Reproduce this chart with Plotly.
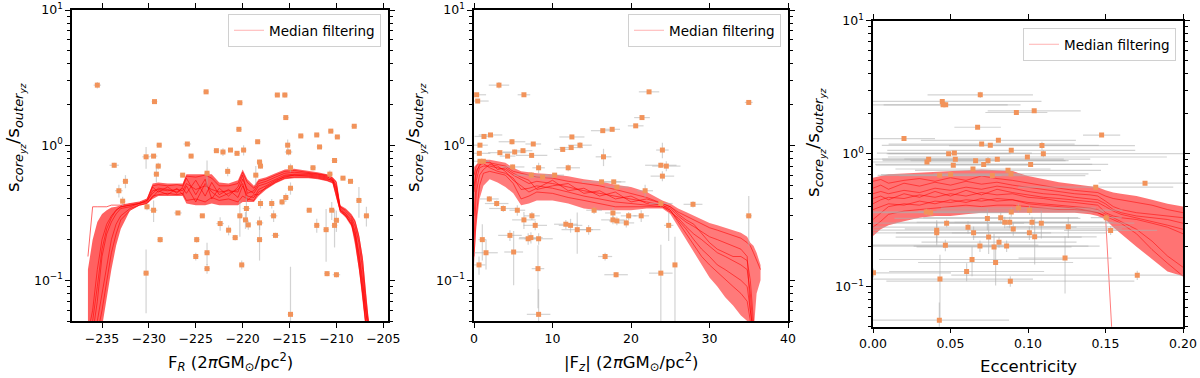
import plotly.graph_objects as go

# ---------------- Panel 1 : F_R ----------------
FR = [-235.5, -233.7, -232.5, -233.2, -232.8, -230.3, -230.2, -230.3, -229.5, -229.4,
      -229.0, -229.2, -229.5, -228.9, -228.8, -226.9, -226.4, -225.9, -225.5, -224.9,
      -225.0, -224.3, -223.9, -223.8, -223.8, -223.8, -222.8, -222.4, -222.1, -221.6,
      -221.5, -221.3, -220.8, -220.6, -220.4, -220.3, -220.3, -220.1, -219.9, -219.7,
      -219.6, -219.4, -218.4, -218.6, -218.2, -218.1, -218.1, -218.2, -218.2, -216.9,
      -216.7, -216.5, -216.3, -215.5, -215.4, -215.2, -215.1, -215.4, -215.8, -214.9,
      -214.9, -214.9, -213.8, -212.9, -212.5, -212.1, -212.1, -211.8, -211.1, -211.0,
      -210.6, -210.5, -210.2, -210.2, -209.9, -210.0, -210.0, -209.3, -208.5, -208.1,
      -207.6, -206.8, -210.7]
S1 = [2.78, 0.71, 0.54, 0.46, 0.385, 0.82, 0.35, 0.113, 0.83, 2.1,
      0.70, 0.61, 0.33, 1.0, 0.20, 0.315, 0.60, 1.02, 0.83, 0.20,
      0.15, 0.30, 2.48, 0.62, 0.16, 0.122, 0.91, 0.263, 0.89, 0.64,
      0.235, 0.92, 0.207, 0.87, 1.31, 2.06, 0.30, 0.13, 0.92, 0.28,
      0.34, 0.257, 1.06, 0.60, 0.75, 0.70, 0.37, 0.266, 0.20, 0.37,
      0.30, 0.215, 2.35, 2.35, 1.6, 1.0, 0.89, 0.41, 0.38, 0.68,
      0.48, 0.056, 1.17, 0.33, 0.68, 1.19, 0.255, 0.97, 0.237, 0.112,
      1.27, 0.33, 0.77, 0.255, 1.15, 0.278, 0.11, 0.57, 0.54, 1.38,
      0.39, 0.30, 0.61]
S1_ERR = [0.15, 0.03, 0.06, 0.05, 0.03, 0.15, 0.02, 0.056, 0.03, 0.05,
          0.04, 0.08, 0.06, 0.03, 0.01, 0.01, 0.02, 0.03, 0.02, 0.01,
          0.01, 0.01, 0.05, 0.15, 0.03, 0.01, 0.03, 0.03, 0.06, 0.05,
          0.02, 0.02, 0.01, 0.02, 0.03, 0.03, 0.09, 0.01, 0.08, 0.04,
          0.08, 0.02, 0.03, 0.10, 0.03, 0.03, 0.03, 0.03, 0.06, 0.03,
          0.03, 0.01, 0.05, 0.10, 0.04, 0.10, 0.05, 0.03, 0.02, 0.05,
          0.05, 0.07, 0.03, 0.01, 0.03, 0.02, 0.03, 0.03, 0.10, 0.005,
          0.03, 0.05, 0.02, 0.08, 0.02, 0.05, 0.005, 0.02, 0.02, 0.03,
          0.10, 0.05, 0.04]
FR_ERR = [0.4, 0.5, 0.3, 0.4, 0.3, 0.4, 0.3, 0.3, 0.4, 0.3,
          0.3, 0.3, 0.4, 0.3, 0.3, 0.4, 0.3, 0.4, 0.3, 0.3,
          0.3, 0.3, 0.3, 0.3, 0.3, 0.3, 0.3, 0.4, 0.3, 0.3,
          0.3, 0.3, 0.3, 0.3, 0.3, 0.3, 0.3, 0.3, 0.3, 0.3,
          0.4, 0.3, 0.3, 0.3, 0.3, 0.3, 0.3, 0.4, 0.3, 0.3,
          0.4, 0.4, 0.3, 0.3, 0.3, 0.3, 0.4, 0.3, 0.3, 0.3,
          0.3, 0.3, 0.3, 0.3, 0.3, 0.3, 0.3, 0.3, 0.3, 0.3,
          0.3, 0.3, 0.3, 0.3, 0.3, 0.3, 0.4, 0.3, 0.3, 0.3,
          0.3, 0.3, 0.3]

X1 = [-236.5, -236, -235.5, -235, -234.5, -234, -233.5, -233, -232, -231,
      -230.2, -229.6, -229, -228, -227, -226.4, -226, -225, -224, -223.3,
      -222.5, -221.5, -220.5, -220, -219.5, -218.8, -218.3, -217.5, -216.5, -215.5,
      -214.5, -213, -212, -211, -210.4, -210, -209.6, -209, -208.4, -208,
      -207.6, -207.2, -206.9, -206.6, -206.3]
U1 = [0.12, 0.20, 0.27, 0.31, 0.33, 0.345, 0.35, 0.36, 0.37, 0.38,
      0.40, 0.52, 0.53, 0.52, 0.52, 0.52, 0.61, 0.61, 0.61, 0.61,
      0.53, 0.52, 0.55, 0.66, 0.56, 0.50, 0.56, 0.58, 0.62, 0.66,
      0.67, 0.65, 0.63, 0.61, 0.58, 0.54, 0.36, 0.34, 0.31, 0.28,
      0.22, 0.15, 0.09, 0.055, 0.04]
L1 = [0.04, 0.04, 0.04, 0.045, 0.07, 0.12, 0.18, 0.24, 0.33, 0.36,
      0.37, 0.40, 0.42, 0.42, 0.42, 0.42, 0.37, 0.36, 0.36, 0.37,
      0.36, 0.36, 0.36, 0.38, 0.38, 0.38, 0.42, 0.47, 0.52, 0.56,
      0.57, 0.57, 0.56, 0.54, 0.52, 0.40, 0.32, 0.29, 0.25, 0.18,
      0.12, 0.07, 0.045, 0.04, 0.04]
LINES1 = [
    [0.04, 0.06, 0.12, 0.20, 0.26, 0.30, 0.33, 0.35, 0.36, 0.37,
     0.38, 0.46, 0.47, 0.46, 0.47, 0.46, 0.52, 0.47, 0.50, 0.47,
     0.45, 0.46, 0.45, 0.56, 0.47, 0.44, 0.50, 0.52, 0.56, 0.60,
     0.61, 0.61, 0.60, 0.58, 0.56, 0.50, 0.34, 0.31, 0.28, 0.23,
     0.16, 0.10, 0.06, 0.045, 0.04],
    [0.04, 0.04, 0.05, 0.08, 0.13, 0.20, 0.26, 0.30, 0.34, 0.36,
     0.37, 0.42, 0.43, 0.44, 0.43, 0.44, 0.39, 0.40, 0.38, 0.41,
     0.39, 0.40, 0.38, 0.42, 0.40, 0.39, 0.45, 0.48, 0.53, 0.57,
     0.58, 0.58, 0.57, 0.55, 0.53, 0.42, 0.33, 0.30, 0.26, 0.20,
     0.13, 0.08, 0.05, 0.04, 0.04],
    [0.15, 0.35, 0.35, 0.35, 0.35, 0.36, 0.36, 0.36, 0.37, 0.38,
     0.40, 0.50, 0.51, 0.50, 0.51, 0.50, 0.59, 0.58, 0.60, 0.57,
     0.50, 0.50, 0.52, 0.63, 0.53, 0.48, 0.54, 0.56, 0.60, 0.64,
     0.65, 0.63, 0.62, 0.60, 0.57, 0.53, 0.35, 0.33, 0.30, 0.27,
     0.21, 0.14, 0.08, 0.05, 0.04],
    [0.04, 0.04, 0.07, 0.15, 0.22, 0.27, 0.31, 0.34, 0.35, 0.37,
     0.39, 0.44, 0.48, 0.47, 0.45, 0.48, 0.44, 0.55, 0.42, 0.53,
     0.43, 0.47, 0.41, 0.50, 0.42, 0.41, 0.47, 0.50, 0.55, 0.58,
     0.60, 0.59, 0.58, 0.56, 0.55, 0.46, 0.33, 0.31, 0.27, 0.22,
     0.15, 0.09, 0.06, 0.042, 0.04],
    [0.04, 0.05, 0.09, 0.17, 0.24, 0.29, 0.33, 0.35, 0.36, 0.37,
     0.39, 0.49, 0.45, 0.49, 0.44, 0.49, 0.57, 0.43, 0.56, 0.40,
     0.48, 0.42, 0.49, 0.60, 0.44, 0.46, 0.52, 0.54, 0.58, 0.62,
     0.63, 0.62, 0.61, 0.59, 0.55, 0.48, 0.35, 0.32, 0.29, 0.25,
     0.19, 0.12, 0.07, 0.048, 0.04],
    [0.04, 0.04, 0.04, 0.06, 0.10, 0.16, 0.22, 0.28, 0.33, 0.36,
     0.37, 0.41, 0.46, 0.43, 0.48, 0.43, 0.50, 0.38, 0.52, 0.45,
     0.41, 0.44, 0.47, 0.52, 0.39, 0.43, 0.43, 0.49, 0.54, 0.59,
     0.60, 0.60, 0.59, 0.57, 0.54, 0.44, 0.32, 0.30, 0.26, 0.21,
     0.14, 0.08, 0.05, 0.04, 0.04],
]

# ---------------- Panel 2 : |F_z| ----------------
FZ = [0.34, 0.47, 3.18, 6.36, 1.27, 2.1, 0.76, 0.68, 0.76, 1.19,
      3.3, 4.28, 4.84, 5.18, 6.24, 7.34, 7.55, 4.92, 7.3, 8.23,
      8.74, 10.27, 2.89, 3.73, 1.95, 5.52, 6.36, 7.38, 7.8, 4.58,
      5.05, 1.53, 1.06, 6.9, 7.25, 8.23, 0.64, 8.15, 8.23, 11.3,
      12.47, 12.38, 13.5, 12.0, 11.7, 12.3, 13.15, 14.6, 16.4, 17.6,
      16.5, 16.25, 17.8, 18.2, 16.7, 18.1, 17.7, 17.7, 18.2, 19.4,
      19.7, 21.3, 20.6, 21.4, 22.3, 21.8, 23.8, 24.0, 23.8, 24.5,
      24.0, 24.8, 23.8, 25.6, 27.9, 35.0, 35.0, 15.3]
S2 = [2.36, 2.12, 2.78, 2.36, 1.16, 1.19, 1.0, 0.87, 0.76, 0.76,
      0.88, 0.83, 1.06, 0.89, 0.91, 0.84, 1.02, 0.69, 0.60, 0.68,
      0.58, 0.60, 0.37, 0.34, 0.40, 0.33, 0.28, 0.30, 0.255, 0.215,
      0.162, 0.16, 0.20, 0.203, 0.207, 0.203, 0.13, 0.122, 0.056, 0.93,
      1.15, 0.96, 1.0, 0.68, 0.26, 0.255, 0.237, 0.237, 1.28, 1.31,
      0.82, 0.535, 0.535, 0.49, 0.15, 0.11, 0.315, 0.28, 0.275, 0.266,
      0.30, 0.30, 1.39, 1.6, 2.48, 0.46, 0.37, 0.92, 0.71, 0.70,
      0.59, 0.255, 0.113, 0.13, 0.365, 2.07, 0.30, 0.33]
FZ_ERR = [1.2, 1.4, 1.3, 0.8, 1.2, 1.5, 1.0, 1.4, 1.2, 0.8,
          1.5, 1.0, 1.7, 1.5, 1.2, 2.0, 1.0, 1.5, 2.2, 0.8,
          1.5, 1.2, 1.5, 1.8, 1.2, 1.0, 1.5, 1.0, 1.5, 1.5,
          1.2, 1.5, 0.5, 1.2, 1.5, 1.8, 0.8, 0.8, 1.5, 1.1,
          1.6, 1.5, 1.5, 1.5, 1.5, 1.5, 2.0, 1.5, 1.5, 1.0,
          1.0, 2.5, 1.5, 1.5, 0.9, 1.5, 1.0, 1.5, 1.0, 1.0,
          1.0, 1.0, 1.0, 1.0, 1.3, 1.0, 1.5, 0.8, 2.0, 1.8,
          1.5, 0.6, 1.5, 0.3, 1.2, 0.5, 0.4, 1.0]
S2_ERR = [0.05, 0.05, 0.15, 0.05, 0.03, 0.03, 0.03, 0.03, 0.03, 0.02,
          0.03, 0.02, 0.05, 0.04, 0.03, 0.03, 0.03, 0.03, 0.03, 0.06,
          0.03, 0.02, 0.02, 0.02, 0.02, 0.03, 0.04, 0.02, 0.02, 0.02,
          0.07, 0.04, 0.06, 0.02, 0.02, 0.02, 0.02, 0.06, 0.03, 0.03,
          0.03, 0.03, 0.05, 0.04, 0.02, 0.03, 0.08, 0.02, 0.03, 0.03,
          0.12, 0.02, 0.02, 0.02, 0.01, 0.005, 0.03, 0.02, 0.02, 0.02,
          0.02, 0.03, 0.03, 0.03, 0.05, 0.05, 0.02, 0.12, 0.03, 0.06,
          0.05, 0.06, 0.07, 0.08, 0.02, 0.03, 0.12, 0.02]

X2 = [0, 0.3, 0.7, 1.2, 2, 3, 4, 5, 6, 7,
      8, 10, 12, 14, 16, 18, 20, 22, 24, 25,
      26, 27, 28, 29, 30, 31, 32, 33, 34, 34.8,
      35.2, 35.6, 36, 36.5]
U2 = [0.69, 0.72, 0.76, 0.78, 0.78, 0.76, 0.74, 0.68, 0.64, 0.63,
      0.62, 0.61, 0.59, 0.56, 0.54, 0.51, 0.49, 0.45, 0.39, 0.37,
      0.34, 0.32, 0.30, 0.28, 0.265, 0.255, 0.245, 0.235, 0.225, 0.21,
      0.19, 0.18, 0.16, 0.13]
L2 = [0.13, 0.25, 0.40, 0.50, 0.56, 0.53, 0.49, 0.44, 0.36, 0.37,
      0.39, 0.39, 0.37, 0.34, 0.33, 0.33, 0.33, 0.34, 0.34, 0.31,
      0.25, 0.20, 0.16, 0.13, 0.105, 0.09, 0.075, 0.065, 0.055, 0.05,
      0.04, 0.04, 0.08, 0.10]
LINES2 = [
    [0.30, 0.55, 0.68, 0.70, 0.70, 0.68, 0.66, 0.60, 0.56, 0.52,
     0.54, 0.52, 0.49, 0.46, 0.44, 0.42, 0.40, 0.38, 0.36, 0.34,
     0.30, 0.27, 0.25, 0.23, 0.21, 0.20, 0.19, 0.18, 0.17, 0.15,
     0.06, 0.04, 0.04, 0.04],
    [0.15, 0.30, 0.50, 0.62, 0.64, 0.62, 0.60, 0.52, 0.40, 0.42,
     0.45, 0.44, 0.41, 0.39, 0.37, 0.35, 0.35, 0.35, 0.35, 0.33,
     0.27, 0.22, 0.18, 0.15, 0.13, 0.115, 0.10, 0.09, 0.08, 0.07,
     0.05, 0.04, 0.04, 0.04],
    [0.60, 0.70, 0.74, 0.75, 0.74, 0.72, 0.70, 0.64, 0.62, 0.60,
     0.58, 0.57, 0.54, 0.52, 0.50, 0.47, 0.44, 0.41, 0.37, 0.35,
     0.32, 0.30, 0.28, 0.26, 0.245, 0.235, 0.225, 0.215, 0.205, 0.19,
     0.18, 0.16, 0.14, 0.12],
    [0.45, 0.62, 0.72, 0.73, 0.68, 0.64, 0.62, 0.57, 0.47, 0.48,
     0.50, 0.48, 0.45, 0.42, 0.40, 0.38, 0.37, 0.36, 0.35, 0.32,
     0.29, 0.25, 0.22, 0.20, 0.18, 0.16, 0.15, 0.14, 0.13, 0.12,
     0.08, 0.04, 0.04, 0.04],
    [0.20, 0.45, 0.60, 0.66, 0.72, 0.70, 0.64, 0.55, 0.50, 0.45,
     0.48, 0.55, 0.46, 0.48, 0.42, 0.45, 0.38, 0.40, 0.37, 0.35,
     0.31, 0.28, 0.26, 0.22, 0.19, 0.17, 0.16, 0.15, 0.15, 0.14,
     0.10, 0.05, 0.04, 0.04],
    [0.50, 0.65, 0.70, 0.77, 0.75, 0.66, 0.68, 0.62, 0.58, 0.55,
     0.47, 0.50, 0.52, 0.44, 0.46, 0.40, 0.42, 0.37, 0.36, 0.33,
     0.28, 0.24, 0.20, 0.17, 0.15, 0.13, 0.12, 0.11, 0.10, 0.09,
     0.06, 0.04, 0.04, 0.04],
]

# ---------------- Panel 3 : Eccentricity ----------------
ECC = [0.0692, 0.0447, 0.0452, 0.0469, 0.0925, 0.104, 0.0675, 0.020, 0.1475, 0.0701,
       0.0757, 0.0809, 0.0892, 0.109, 0.1099, 0.0996, 0.1017, 0.0488, 0.0525, 0.0531,
       0.0518, 0.0359, 0.0348, 0.0662, 0.0742, 0.0802, 0.0714, 0.0645, 0.0871, 0.0430,
       0.0501, 0.0890, 0.0770, 0.1755, 0.1437, 0.0344, 0.0372, 0.0892, 0.0938, 0.1010,
       0.1505, 0.1533, 0.0475, 0.0738, 0.0824, 0.0850, 0.0882, 0.1026, 0.1086, 0.1260,
       0.0411, 0.0411, 0.0613, 0.0649, 0.0905, 0.1009, 0.1043, 0.0746, 0.0467, 0.0690,
       0.0781, 0.0862, 0.0813, 0.0639, 0.0791, 0.1239, 0.0604, 0.0432, 0.0886, 0.1705,
       0.0428, 0.0003]
S3 = [2.77, 2.47, 2.33, 2.33, 2.04, 2.10, 1.58, 1.30, 1.38, 1.18,
      1.155, 1.26, 1.06, 1.15, 1.0, 0.944, 0.83, 1.0, 1.01, 0.91,
      0.82, 0.91, 0.866, 0.886, 0.886, 0.91, 0.83, 0.767, 0.75, 0.688,
      0.696, 0.704, 0.684, 0.60, 0.56, 0.365, 0.36, 0.365, 0.39, 0.376,
      0.33, 0.265, 0.30, 0.326, 0.33, 0.305, 0.305, 0.305, 0.30, 0.282,
      0.266, 0.254, 0.28, 0.254, 0.272, 0.254, 0.237, 0.236, 0.205, 0.202,
      0.199, 0.202, 0.216, 0.16, 0.152, 0.164, 0.13, 0.114, 0.11, 0.122,
      0.056, 0.127]
ECC_ERR = [0.034, 0.064, 0.05, 0.04, 0.02, 0.03, 0.015, 0.02, 0.012, 0.06,
           0.07, 0.05, 0.08, 0.06, 0.10, 0.09, 0.05, 0.04, 0.05, 0.07,
           0.05, 0.03, 0.035, 0.06, 0.05, 0.06, 0.07, 0.05, 0.06, 0.04,
           0.045, 0.05, 0.06, 0.03, 0.05, 0.04, 0.05, 0.06, 0.05, 0.06,
           0.01, 0.03, 0.05, 0.06, 0.05, 0.07, 0.06, 0.05, 0.06, 0.04,
           0.05, 0.06, 0.07, 0.05, 0.07, 0.05, 0.04, 0.06, 0.06, 0.07,
           0.05, 0.06, 0.05, 0.06, 0.05, 0.03, 0.05, 0.06, 0.08, 0.12,
           0.045, 0.05]
S3_ERR = [0.15, 0.10, 0.05, 0.05, 0.03, 0.03, 0.03, 0.03, 0.03, 0.03,
          0.03, 0.03, 0.03, 0.08, 0.06, 0.03, 0.03, 0.03, 0.03, 0.03,
          0.03, 0.03, 0.03, 0.03, 0.06, 0.03, 0.03, 0.03, 0.03, 0.03,
          0.03, 0.03, 0.03, 0.02, 0.02, 0.02, 0.02, 0.03, 0.03, 0.03,
          0.02, 0.02, 0.02, 0.06, 0.03, 0.03, 0.03, 0.03, 0.07, 0.05,
          0.05, 0.05, 0.03, 0.03, 0.03, 0.03, 0.09, 0.06, 0.02, 0.02,
          0.05, 0.02, 0.02, 0.04, 0.05, 0.075, 0.02, 0.06, 0.01, 0.01,
          0.02, 0.01]

X3 = [0, 0.005, 0.01, 0.02, 0.03, 0.04, 0.05, 0.06, 0.07, 0.08,
      0.09, 0.10, 0.11, 0.12, 0.13, 0.14, 0.145, 0.15, 0.155, 0.16,
      0.17, 0.18, 0.19, 0.20]
U3 = [0.66, 0.68, 0.70, 0.71, 0.72, 0.73, 0.74, 0.75, 0.76, 0.75,
      0.74, 0.68, 0.64, 0.61, 0.59, 0.57, 0.56, 0.53, 0.51, 0.50,
      0.48, 0.45, 0.42, 0.40]
L3 = [0.24, 0.27, 0.29, 0.31, 0.33, 0.34, 0.34, 0.35, 0.36, 0.36,
      0.36, 0.36, 0.36, 0.36, 0.36, 0.35, 0.34, 0.32, 0.28, 0.25,
      0.20, 0.16, 0.13, 0.12]
LINES3 = [
    [0.50, 0.52, 0.50, 0.53, 0.51, 0.55, 0.53, 0.56, 0.54, 0.57,
     0.55, 0.52, 0.50, 0.49, 0.47, 0.46, 0.45, 0.42, 0.38, 0.36,
     0.34, 0.33, 0.32, 0.30],
    [0.32, 0.36, 0.40, 0.42, 0.41, 0.44, 0.43, 0.45, 0.44, 0.46,
     0.45, 0.43, 0.42, 0.41, 0.40, 0.39, 0.38, 0.35, 0.33, 0.31,
     0.27, 0.22, 0.17, 0.14],
    [0.62, 0.64, 0.60, 0.63, 0.65, 0.62, 0.66, 0.63, 0.68, 0.65,
     0.63, 0.60, 0.57, 0.55, 0.53, 0.52, 0.51, 0.48, 0.46, 0.45,
     0.43, 0.41, 0.38, 0.36],
    [0.42, 0.45, 0.47, 0.46, 0.49, 0.47, 0.50, 0.48, 0.51, 0.49,
     0.50, 0.47, 0.46, 0.44, 0.43, 0.42, 0.41, 0.36, 0.34, 0.33,
     0.32, 0.30, 0.28, 0.25],
    [0.38, 0.40, 0.42, 0.41, 0.44, 0.42, 0.45, 0.43, 0.46, 0.44,
     0.45, 0.42, 0.41, 0.40, 0.39, 0.37, 0.36, 0.34, 0.03, None,
     None, None, None, None],
    [0.55, 0.58, 0.54, 0.60, 0.57, 0.61, 0.58, 0.62, 0.59, 0.61,
     0.58, 0.56, 0.54, 0.52, 0.50, 0.49, 0.48, 0.44, 0.40, 0.38,
     0.36, 0.35, 0.34, 0.33],
    [0.28, 0.31, 0.35, 0.37, 0.38, 0.39, 0.40, 0.41, 0.40, 0.41,
     0.41, 0.40, 0.39, 0.38, 0.38, 0.37, 0.36, 0.34, 0.32, 0.30,
     0.25, 0.19, 0.15, 0.12],
    [0.46, 0.48, 0.45, 0.50, 0.47, 0.52, 0.48, 0.53, 0.49, 0.54,
     0.51, 0.49, 0.47, 0.46, 0.45, 0.44, 0.43, 0.40, 0.37, 0.35,
     0.33, 0.31, 0.29, 0.27],
]

for a, b in [(FR, S1), (FR, S1_ERR), (FR, FR_ERR), (FZ, S2), (FZ, FZ_ERR), (FZ, S2_ERR),
             (ECC, S3), (ECC, ECC_ERR), (ECC, S3_ERR), (X1, U1), (X1, L1), (X2, U2), (X2, L2),
             (X3, U3), (X3, L3)] + [(X1, l) for l in LINES1] + [(X2, l) for l in LINES2] \
        + [(X3, l) for l in LINES3]:
    assert len(a) == len(b), (len(a), len(b))

YLAB = "s<sub><i>core<sub>yz</sub></i></sub>/s<sub><i>outer<sub>yz</sub></i></sub>"
XLABS = ["F<sub><i>R</i></sub> (2<i>π</i>GM<sub>⊙</sub>/pc<sup>2</sup>)",
         "|F<sub><i>z</i></sub>| (2<i>π</i>GM<sub>⊙</sub>/pc<sup>2</sup>)",
         "Eccentricity"]

FONT = "DejaVu Sans, Liberation Sans, sans-serif"
ORANGE = "#F2935A"

fig = go.Figure()

panels = [
    (FR, S1, FR_ERR, S1_ERR, X1, U1, L1, LINES1, "x", "y", "legend", 0.62, 0.75),
    (FZ, S2, FZ_ERR, S2_ERR, X2, U2, L2, LINES2, "x2", "y2", "legend2", 0.52, 0.7),
    (ECC, S3, ECC_ERR, S3_ERR, X3, U3, L3, LINES3, "x3", "y3", "legend3", 0.55, 0.65),
]

for (xs, ys, xe, ye, gx, up, lo, lines, xa, ya, leg, alpha, lalpha) in panels:
    # band of median-filtering realisations
    fig.add_trace(go.Scatter(
        x=gx + gx[::-1], y=up + lo[::-1], mode="lines", fill="toself",
        fillcolor=f"rgba(255,0,0,{alpha})", line=dict(width=0),
        hoverinfo="skip", showlegend=False, xaxis=xa, yaxis=ya))
    for i, ln in enumerate(lines):
        fig.add_trace(go.Scatter(
            x=gx, y=ln, mode="lines", line=dict(color=f"rgba(255,0,0,{lalpha})", width=0.8),
            name="Median filtering", showlegend=False,
            xaxis=xa, yaxis=ya, connectgaps=False))
    # legend entry (thin translucent line as in the original)
    fig.add_trace(go.Scatter(
        x=[None], y=[None], mode="lines", line=dict(color="rgba(255,0,0,0.3)", width=1),
        name="Median filtering", showlegend=True, legend=leg, xaxis=xa, yaxis=ya))
    yminus = [min(e, 0.9 * v) for e, v in zip(ye, ys)]
    fig.add_trace(go.Scatter(
        x=xs, y=ys, mode="markers",
        marker=dict(color=ORANGE, size=5, symbol="square", line=dict(width=0)),
        error_x=dict(type="data", array=xe, color="rgba(175,175,175,0.55)", thickness=1.2, width=0),
        error_y=dict(type="data", array=ye, arrayminus=yminus,
                     color="rgba(175,175,175,0.55)", thickness=1.2, width=0),
        showlegend=False, xaxis=xa, yaxis=ya))

axis_common = dict(showgrid=False, zeroline=False, showline=True, linecolor="black",
                   linewidth=1.5, mirror="allticks", ticks="outside", ticklen=5,
                   tickwidth=1.2, tickcolor="black", automargin=False,
                   tickfont=dict(family=FONT, size=12.5, color="black"))
minor_vals = [0.05, 0.06, 0.07, 0.08, 0.09, 0.2, 0.3, 0.4, 0.5, 0.6, 0.7, 0.8, 0.9,
              2, 3, 4, 5, 6, 7, 8, 9]
yaxis_common = dict(axis_common, type="log", range=[-1.30103, 1],
                    tickmode="array", tickvals=[0.1, 1, 10],
                    ticktext=["10<sup>−1</sup>", "10<sup>0</sup>", "10<sup>1</sup>"],
                    minor=dict(tickmode="array", tickvals=minor_vals, ticks="outside",
                               ticklen=3, tickwidth=1, tickcolor="black", showgrid=False))

W, H = 1200, 378
def dx(a, b):
    return [a / W, b / W]
def dy(top, bot):
    return [1 - bot / H, 1 - top / H]
def px(a):
    return a / W
def py(a):
    return 1 - a / H

fig.update_layout(
    width=W, height=H, margin=dict(l=0, r=0, t=0, b=0, autoexpand=False),
    paper_bgcolor="white", plot_bgcolor="white",
    font=dict(family=FONT, color="black"),
    xaxis=dict(axis_common, domain=dx(72, 388), range=[-238.2, -204.5],
               tickmode="array", tickvals=[-235, -230, -225, -220, -215, -210, -205],
               ticktext=["−235", "−230", "−225", "−220", "−215", "−210", "−205"],
               anchor="y"),
    yaxis=dict(yaxis_common, domain=dy(10, 321), anchor="x"),
    xaxis2=dict(axis_common, domain=dx(474, 788), range=[0, 40],
                tickmode="array", tickvals=[0, 10, 20, 30, 40], anchor="y2"),
    yaxis2=dict(yaxis_common, domain=dy(10, 321), anchor="x2"),
    xaxis3=dict(axis_common, domain=dx(873, 1183), range=[0, 0.2],
                tickmode="array", tickvals=[0, 0.05, 0.1, 0.15, 0.2],
                ticktext=["0.00", "0.05", "0.10", "0.15", "0.20"], anchor="y3"),
    yaxis3=dict(yaxis_common, domain=dy(20.7, 326.7), anchor="x3"),
)

leg_style = dict(bgcolor="white", bordercolor="#d0d0d0", borderwidth=1,
                 font=dict(family=FONT, size=13.5, color="black"),
                 xanchor="right", yanchor="top", itemwidth=30)
fig.update_layout(
    legend=dict(leg_style, x=px(381), y=py(14)),
    legend2=dict(leg_style, x=px(781), y=py(14)),
    legend3=dict(leg_style, x=px(1176), y=py(28)),
)

ann = []
for cx, cy, lab in zip([230, 631, 1028], [362, 362, 366], XLABS):
    ann.append(dict(text=lab, x=px(cx), y=py(cy), xref="paper", yref="paper",
                    xanchor="center", yanchor="middle", showarrow=False,
                    font=dict(family=FONT, size=16.5, color="black")))
for cx, cy in [(15, 138), (415, 138), (815, 143)]:
    ann.append(dict(text=YLAB, x=px(cx), y=py(cy), xref="paper", yref="paper",
                    xanchor="center", yanchor="middle", showarrow=False, textangle=-90,
                    font=dict(family=FONT, size=18.5, color="black")))
fig.update_layout(annotations=ann)

# remove the browser's default 8 px body margin so the figure sits at the page corner
fig.write_html("out.html", config={"displayModeBar": False},
               post_script="document.body.style.margin='0';document.body.style.overflow='hidden';")
